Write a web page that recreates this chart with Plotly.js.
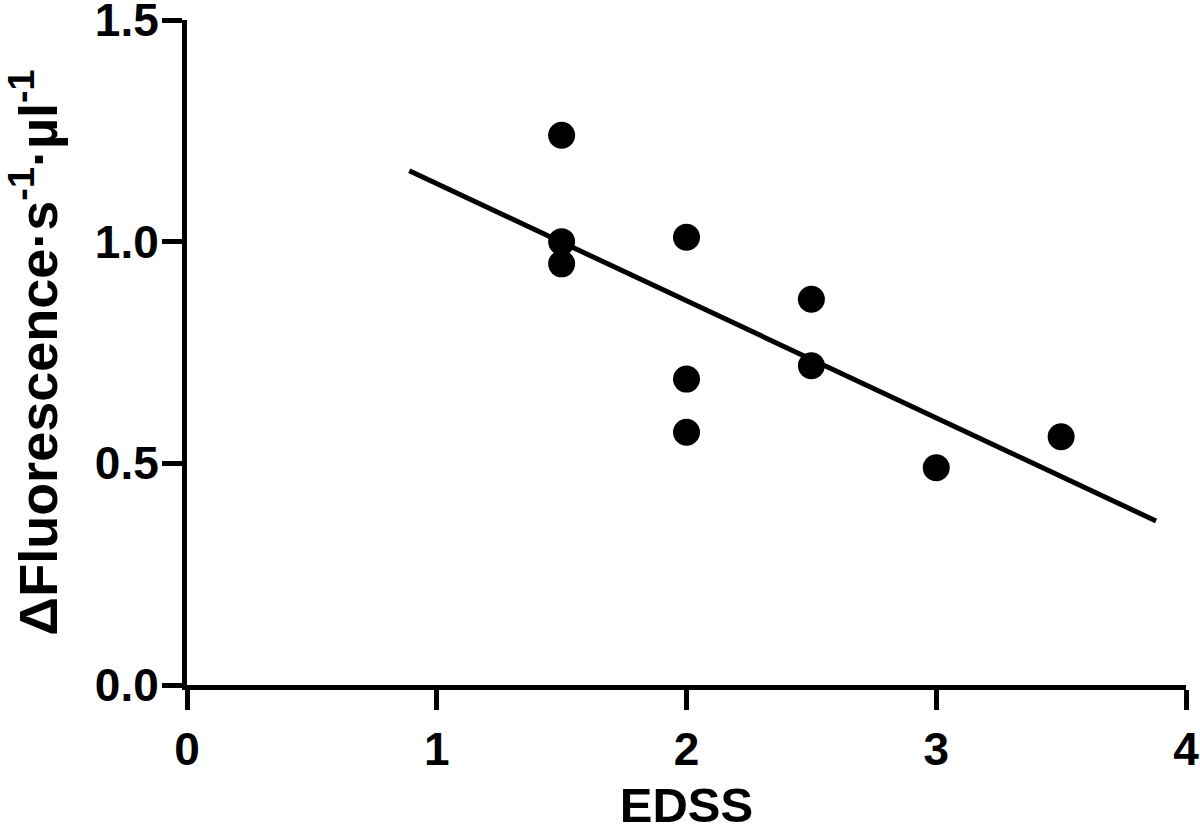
<!DOCTYPE html>
<html>
<head>
<meta charset="utf-8">
<script src="https://cdn.plot.ly/plotly-3.0.1.min.js"></script>
<style>html,body{margin:0;padding:0;background:#fff;}#chart{width:1200px;height:832px;}</style>
</head>
<body>
<div id="chart"></div>
<script>
// Data
const edss = [1.5, 1.5, 1.5, 2, 2, 2, 2.5, 2.5, 3, 3.5];
const fluorescence = [1.24, 1.00, 0.95, 1.01, 0.69, 0.57, 0.87, 0.72, 0.49, 0.56];
const fitX = [0.89, 3.88];
const fitY = [1.16, 0.37];
const xTicks = [0, 1, 2, 3, 4];
const yTicks = [0, 0.5, 1.0, 1.5];
const yTickText = ['0.0', '0.5', '1.0', '1.5'];

const FONT = '"Liberation Sans", Arial, Helvetica, sans-serif';

const traces = [
  {
    x: fitX, y: fitY, type: 'scatter', mode: 'lines',
    line: {color: '#000', width: 5}, hoverinfo: 'skip', showlegend: false
  },
  {
    x: edss, y: fluorescence, type: 'scatter', mode: 'markers',
    marker: {color: '#000', size: 27, line: {width: 0}}, showlegend: false
  }
];

const layout = {
  width: 1200, height: 832,
  margin: {l: 187, r: 14, t: 20, b: 147},
  paper_bgcolor: '#fff', plot_bgcolor: '#fff',
  font: {family: FONT, color: '#000', size: 40, weight: 'bold'},
  xaxis: {
    range: [0, 4], tickvals: xTicks, ticktext: xTicks.map(String),
    showgrid: false, zeroline: false, showline: true, linecolor: '#000', linewidth: 5,
    ticks: 'outside', ticklen: 20, tickwidth: 5, tickcolor: '#000',
    tickfont: {family: FONT, size: 46, weight: 'bold'},
    ticklabeloverflow: 'allow',
    title: {text: 'EDSS', font: {family: FONT, size: 49, weight: 'bold'}, standoff: 20},
    automargin: false
  },
  yaxis: {
    range: [0, 1.5], tickvals: yTicks, ticktext: yTickText,
    showgrid: false, zeroline: false, showline: true, linecolor: '#000', linewidth: 5,
    ticks: 'outside', ticklen: 20, tickwidth: 5, tickcolor: '#000',
    tickfont: {family: FONT, size: 46, weight: 'bold'},
    ticklabeloverflow: 'allow',
    ticklabelstandoff: -6,
    title: {text: 'ΔFluorescence·s<sup>-1</sup>·µl<sup>-1</sup>', font: {family: FONT, size: 54, weight: 'bold'}, standoff: 43},
    automargin: false
  }
};

Plotly.newPlot('chart', traces, layout, {displayModeBar: false, staticPlot: true});
</script>
</body>
</html>
